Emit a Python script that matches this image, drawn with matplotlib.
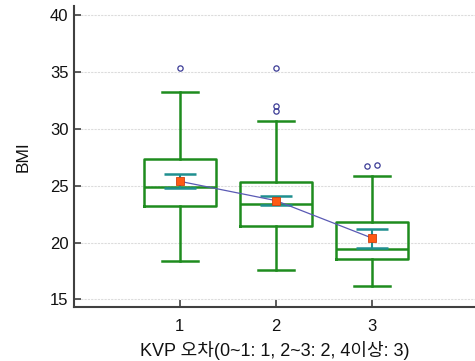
import matplotlib
matplotlib.use("Agg")
import matplotlib.pyplot as plt

plt.rcParams["font.family"] = ["Liberation Sans", "Noto Sans CJK KR", "DejaVu Sans"]

# box statistics
groups = [1, 2, 3]
whisker_low = [18.4, 17.6, 16.2]
q1 = [23.2, 21.5, 18.55]
median = [24.9, 23.4, 19.4]
q3 = [27.4, 25.3, 21.8]
whisker_high = [33.3, 30.7, 25.9]
outliers = [[35.4], [35.4, 32.0, 31.6], [26.75, 26.85]]
outlier_jitter = [[0.0], [0.0, 0.0, 0.0], [-0.05, 0.05]]

mean = [25.4, 23.7, 20.4]
ci_low = [24.8, 23.33, 19.55]
ci_high = [26.0, 24.07, 21.2]

green = "#1e8c1e"
teal = "#1f8f8f"
navy = "#3c3c96"

fig = plt.figure(figsize=(4.75, 3.61), dpi=100)
ax = fig.add_axes([0.156, 0.150, 0.844, 0.833])

stats = []
for i in range(len(groups)):
    stats.append({
        "whislo": whisker_low[i], "q1": q1[i], "med": median[i],
        "q3": q3[i], "whishi": whisker_high[i], "fliers": [],
    })

line_kw = dict(color=green, linewidth=1.8)
ax.bxp(stats, positions=groups, widths=0.75, showfliers=False,
       boxprops=line_kw, whiskerprops=line_kw, capprops=line_kw,
       medianprops=line_kw, capwidths=0.375, manage_ticks=False)

for g, vals, jit in zip(groups, outliers, outlier_jitter):
    ax.plot([g + j for j in jit], vals, linestyle="none", marker="o",
            markersize=3.8, markerfacecolor="none", markeredgecolor=navy,
            markeredgewidth=0.9)

# confidence interval of the mean
ax.vlines(groups, ci_low, ci_high, color=teal, linewidth=1.5, zorder=3)
ax.hlines(ci_low, [g - 0.165 for g in groups], [g + 0.165 for g in groups],
          color=teal, linewidth=1.8, zorder=3)
ax.hlines(ci_high, [g - 0.165 for g in groups], [g + 0.165 for g in groups],
          color=teal, linewidth=1.8, zorder=3)

ax.plot(groups, mean, color="#5a5ab4", linewidth=0.9, zorder=4)
ax.plot(groups, mean, linestyle="none", marker="s", markersize=5.5,
        markerfacecolor="#ff5a14", markeredgecolor="#d04010",
        markeredgewidth=0.6, zorder=5)

ax.set_xlim(-0.1, 4.07)
ax.set_ylim(14.35, 40.82)
ax.set_xticks(groups)
ax.set_yticks([15, 20, 25, 30, 35, 40])
ax.yaxis.grid(True, color="#dcdcdc", linestyle=(0, (2, 1)), linewidth=0.8)
ax.set_axisbelow(True)

for side in ["top", "right"]:
    ax.spines[side].set_visible(False)
for side in ["left", "bottom"]:
    ax.spines[side].set_color("#404040")
    ax.spines[side].set_linewidth(1.5)

ax.tick_params(direction="in", length=5, width=1.2, color="#404040",
               labelsize=12, labelcolor="#111111")
ax.tick_params(axis="x", pad=9)
ax.tick_params(axis="y", pad=4)

ax.set_xlabel("KVP 오차(0~1: 1, 2~3: 2, 4이상: 3)", fontsize=13,
              color="#111111", labelpad=5)
ax.set_ylabel("BMI", fontsize=12.5, color="#111111", labelpad=14)

fig.savefig("out.png", dpi=100)
